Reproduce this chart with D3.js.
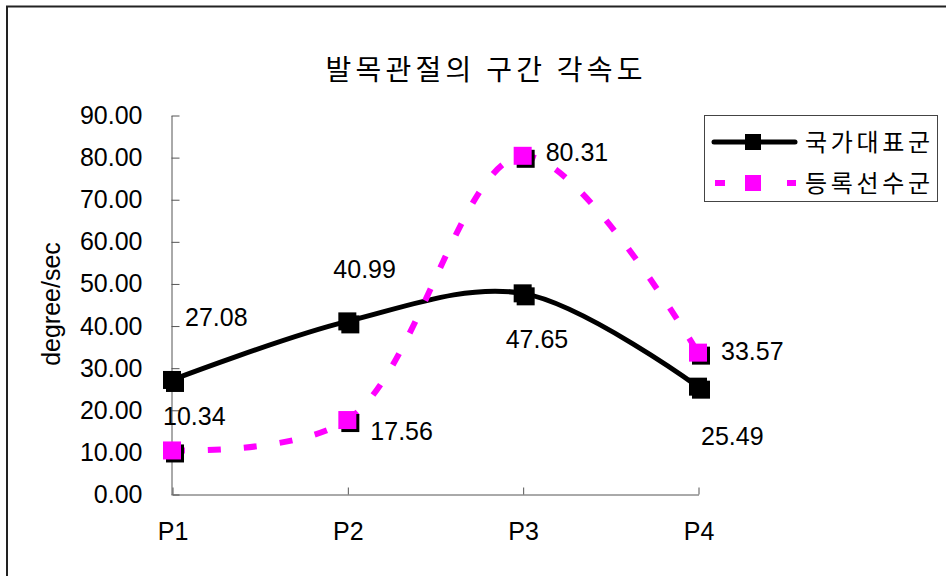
<!DOCTYPE html>
<html>
<head>
<meta charset="utf-8">
<script src="https://cdn.jsdelivr.net/npm/d3@7"></script>
<style>
  html, body { margin: 0; padding: 0; background: #fff; }
  svg { display: block; }
  .num { font-family: "Liberation Sans", Arial, sans-serif; }
  .kr { font-family: "Noto Sans CJK KR", sans-serif; }
</style>
</head>
<body>
<svg id="chart" width="946" height="576"></svg>
<script>
// Data
const categories = ["P1", "P2", "P3", "P4"];
const seriesNames = ["국가대표군", "등록선수군"];
const nationalTeam = [27.08, 40.99, 47.65, 25.49];
const registeredPlayers = [10.34, 17.56, 80.31, 33.57];
const yTicks = [0, 10, 20, 30, 40, 50, 60, 70, 80, 90];
const titleText = "발목관절의 구간 각속도";
const yAxisTitle = "degree/sec";

// Label placement (offset of the label's left edge / vertical centre from its point)
const labelOffsets = [
  [[13, -63], [-14, -52], [-17, 46], [3, 50]],
  [[-9, -34], [23, 11], [23, -4], [23, -1]]
];

const W = 946, H = 576;
const svg = d3.select("#chart");

svg.append("rect").attr("width", W).attr("height", H).attr("fill", "#fff");

// Outer frame (only left and top edges fall inside the view)
svg.append("path")
  .attr("d", "M7,576 V6.5 H946")
  .attr("fill", "none").attr("stroke", "#222").attr("stroke-width", 2);

const x = d3.scalePoint().domain(categories).range([172, 698]);
const y = d3.scaleLinear().domain([0, 90]).range([494, 115]);

// Title
svg.append("text").attr("class", "kr")
  .attr("x", 484).attr("y", 80)
  .attr("text-anchor", "middle")
  .attr("font-size", 28).attr("fill", "#000")
  .attr("textLength", 317).attr("lengthAdjust", "spacing")
  .text(titleText);

// Axes
const axisColor = "#555";
const numFont = "Liberation Sans, Arial, sans-serif";
const yAxis = svg.append("g")
  .attr("transform", "translate(171.5,0.5)")
  .call(d3.axisLeft(y).tickValues(yTicks).tickFormat(d3.format(".2f"))
    .tickSize(-8).tickSizeOuter(0).tickPadding(29));
yAxis.selectAll("text").attr("font-size", 25).attr("fill", "#000")
  .attr("font-family", numFont);
yAxis.selectAll("line, path").attr("stroke", axisColor);

const xAxis = svg.append("g")
  .attr("transform", "translate(0.5,494.5)")
  .call(d3.axisBottom(x).tickSize(-7).tickSizeOuter(0).tickPadding(28));
xAxis.selectAll("text").attr("font-size", 25).attr("fill", "#000")
  .attr("font-family", numFont);
xAxis.selectAll("line, path").attr("stroke", axisColor);

// Y axis title
svg.append("text").attr("class", "num")
  .attr("transform", "translate(60,304) rotate(-90)")
  .attr("text-anchor", "middle")
  .attr("font-size", 25).attr("fill", "#000")
  .text(yAxisTitle);

// Series
const series = [
  { name: seriesNames[0], values: nationalTeam, color: "#000", dash: null, width: 5 },
  { name: seriesNames[1], values: registeredPlayers, color: "#ff00ff", dash: "13,23", width: 6 }
];

const line = d3.line()
  .x((d, i) => x(categories[i]))
  .y(d => y(d))
  .curve(d3.curveCatmullRom.alpha(0.5));

const markerSize = 18, shadow = 3;

series.forEach(s => {
  svg.append("path")
    .datum(s.values)
    .attr("d", line)
    .attr("fill", "none")
    .attr("stroke", s.color)
    .attr("stroke-width", s.width)
    .attr("stroke-dasharray", s.dash);
});

series.forEach(s => {
  const g = svg.append("g");
  s.values.forEach((v, i) => {
    const cx = x(categories[i]), cy = y(v);
    g.append("rect")
      .attr("x", cx - markerSize / 2 + shadow).attr("y", cy - markerSize / 2 + shadow)
      .attr("width", markerSize).attr("height", markerSize).attr("fill", "#000");
    g.append("rect")
      .attr("x", cx - markerSize / 2).attr("y", cy - markerSize / 2)
      .attr("width", markerSize).attr("height", markerSize).attr("fill", s.color);
  });
});

// Value labels
series.forEach((s, si) => {
  s.values.forEach((v, i) => {
    const [dx, dy] = labelOffsets[si][i];
    svg.append("text").attr("class", "num")
      .attr("x", x(categories[i]) + dx)
      .attr("y", y(v) + dy)
      .attr("dy", "0.35em")
      .attr("font-size", 25).attr("fill", "#000")
      .text(d3.format(".2f")(v));
  });
});

// Legend
const legend = svg.append("g");
legend.append("rect")
  .attr("x", 704.5).attr("y", 115.5).attr("width", 233).attr("height", 86)
  .attr("fill", "#fff").attr("stroke", "#444").attr("stroke-width", 1);

const rows = [142, 183];
series.forEach((s, si) => {
  const ly = rows[si];
  if (si === 0) {
    legend.append("line")
      .attr("x1", 714).attr("x2", 795).attr("y1", ly).attr("y2", ly)
      .attr("stroke", s.color).attr("stroke-width", 5).attr("stroke-linecap", "round");
  } else {
    [[715, 725], [787, 796]].forEach(([a, b]) => {
      legend.append("line")
        .attr("x1", a).attr("x2", b).attr("y1", ly).attr("y2", ly)
        .attr("stroke", s.color).attr("stroke-width", 6);
    });
  }
  legend.append("rect")
    .attr("x", 753 - 8).attr("y", ly - 8).attr("width", 16).attr("height", 16)
    .attr("fill", s.color);
  legend.append("text").attr("class", "kr")
    .attr("x", 805).attr("y", ly).attr("dy", "0.36em")
    .attr("font-size", 24).attr("fill", "#000")
    .attr("textLength", 125).attr("lengthAdjust", "spacing")
    .text(s.name);
});
</script>
</body>
</html>
